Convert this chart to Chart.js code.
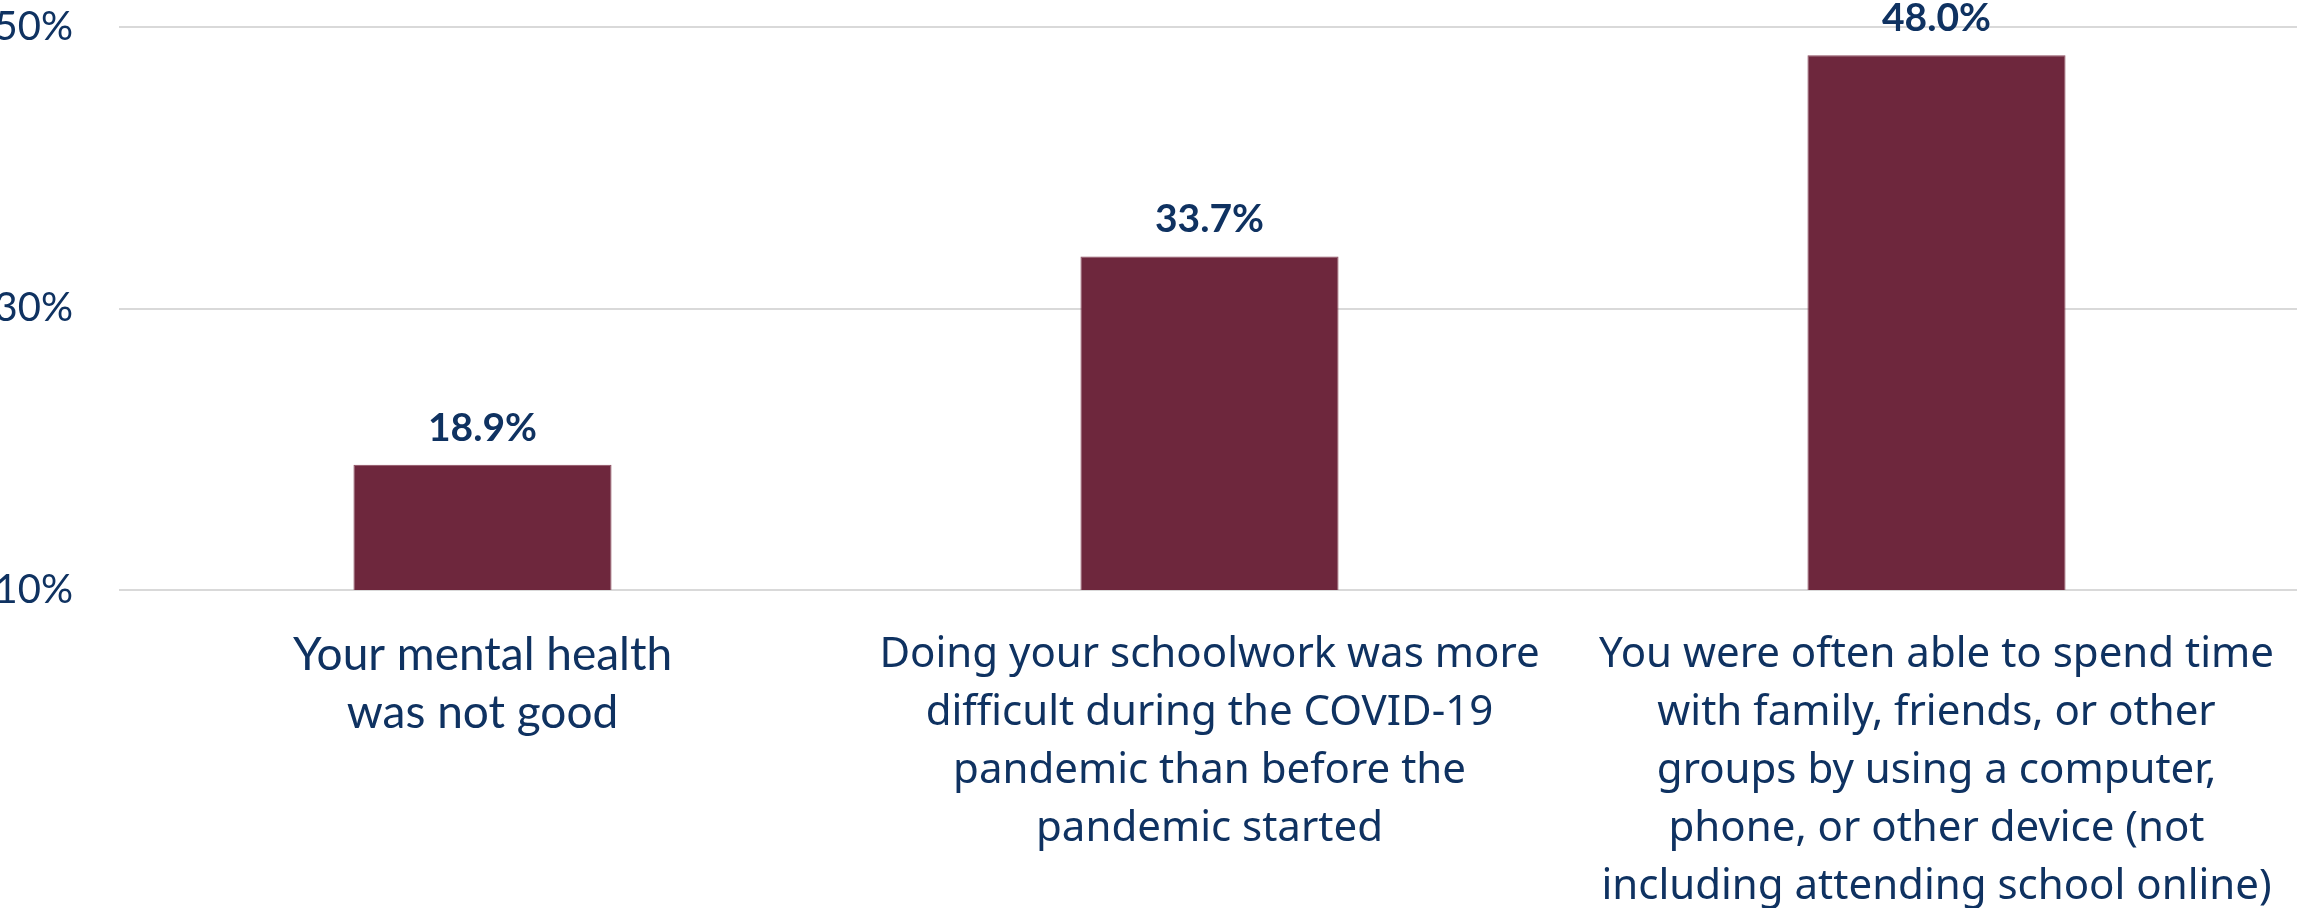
<!DOCTYPE html>
<html>
<head>
<meta charset="utf-8">
<title>Student experiences</title>
<script src="https://cdn.jsdelivr.net/npm/chart.js@4"></script>
<style>
    html, body { margin: 0; padding: 0; background: #fff; overflow: hidden; }
    #wrap { width: 2300px; height: 908px; position: relative; }
</style>
</head>
<body>
<div id="wrap"><canvas id="chart"></canvas></div>
<script>
const categories = [
    ['Your mental health', 'was not good'],
    ['Doing your schoolwork was more', 'difficult during the COVID-19', 'pandemic than before the', 'pandemic started'],
    ['You were often able to spend time', 'with family, friends, or other', 'groups by using a computer,', 'phone, or other device (not', 'including attending school online)']
];
const percentValues = [18.9, 33.7, 48.0];
const yTicks = [10, 30, 50];

const navy = '#0f3261';
const barColor = '#6e273d';

// value labels above bars
const valueLabels = {
    id: 'valueLabels',
    afterDatasetsDraw(chart) {
        const ctx = chart.ctx;
        const meta = chart.getDatasetMeta(0);
        ctx.save();
        ctx.fillStyle = navy;
        ctx.font = 'bold 39px Lato';
        ctx.textAlign = 'center';
        ctx.textBaseline = 'alphabetic';
        meta.data.forEach((bar, i) => {
            ctx.fillText(percentValues[i].toFixed(1) + '%', bar.x, bar.y - 24);
        });
        ctx.restore();
    }
};

new Chart(document.getElementById('chart'), {
    type: 'bar',
    data: {
        labels: categories,
        datasets: [{
            data: percentValues,
            backgroundColor: barColor,
            borderColor: '#8a4a5c',
            borderWidth: 1,
            barPercentage: 0.355,
            categoryPercentage: 1
        }]
    },
    options: {
        responsive: true,
        maintainAspectRatio: false,
        animation: false,
        layout: { padding: { top: 27, right: 0, bottom: 0, left: 0 } },
        plugins: {
            legend: { display: false },
            tooltip: { enabled: false }
        },
        scales: {
            x: {
                grid: { display: false },
                border: { display: false },
                ticks: {
                    color: navy,
                    maxRotation: 0,
                    autoSkip: false,
                    padding: 28,
                    font: (c) => c.index === 0
                        ? { family: 'Lato', size: 46, lineHeight: 58 / 46 }
                        : { family: "'Noto Sans'", size: 42, lineHeight: 58 / 42 }
                },
                afterFit(scale) {
                    scale.height = 318;
                    scale.paddingLeft = 0;
                    scale.paddingRight = 0;
                }
            },
            y: {
                min: 10,
                max: 50,
                afterBuildTicks(scale) { scale.ticks = yTicks.map(v => ({ value: v })); },
                grid: { color: '#d9d9d9', lineWidth: 2, drawTicks: false },
                border: { display: false },
                ticks: {
                    color: navy,
                    padding: 46,
                    font: { family: 'Lato', size: 40 },
                    callback: (v) => v + '%'
                },
                afterFit(scale) {
                    scale.width = 119;
                    scale.paddingTop = 0;
                }
            }
        }
    },
    plugins: [valueLabels]
});
</script>
</body>
</html>
